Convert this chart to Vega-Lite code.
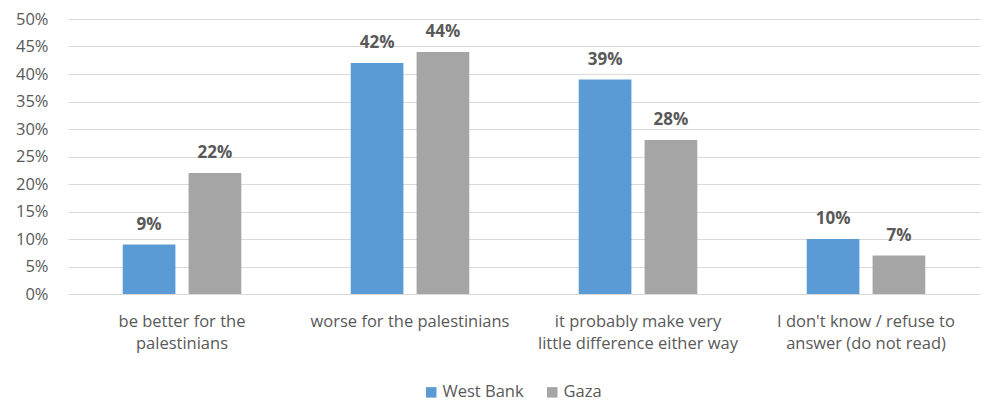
{
  "$schema": "https://vega.github.io/schema/vega-lite/v6.json",
  "autosize": {"type": "none"},
  "padding": {"left": 68, "top": 19, "right": 5, "bottom": 113},
  "width": 912,
  "height": 275,
  "background": "white",
  "data": {
    "values": [
      {"cat": "be better for the palestinians", "region": "West Bank", "value": 0.09},
      {"cat": "be better for the palestinians", "region": "Gaza", "value": 0.22},
      {"cat": "worse for the palestinians", "region": "West Bank", "value": 0.42},
      {"cat": "worse for the palestinians", "region": "Gaza", "value": 0.44},
      {"cat": "it probably make very little difference either way", "region": "West Bank", "value": 0.39},
      {"cat": "it probably make very little difference either way", "region": "Gaza", "value": 0.28},
      {"cat": "I don't know / refuse to answer (do not read)", "region": "West Bank", "value": 0.10},
      {"cat": "I don't know / refuse to answer (do not read)", "region": "Gaza", "value": 0.07}
    ]
  },
  "config": {
    "view": {"stroke": null},
    "font": "Open Sans",
    "axis": {"labelFont": "Open Sans", "labelColor": "#595959", "labelFontSize": 16.5}
  },
  "encoding": {
    "x": {
      "field": "cat",
      "type": "nominal",
      "sort": null,
      "scale": {"paddingInner": 0.48, "paddingOuter": 0.24},
      "axis": {
        "title": null,
        "labelAngle": 0,
        "domain": false,
        "ticks": false,
        "labelPadding": 19,
        "labelLineHeight": 22,
        "labelLimit": 400,
        "labelOverlap": false,
        "labelExpr": "datum.value == 'be better for the palestinians' ? ['be better for the', 'palestinians'] : datum.value == 'it probably make very little difference either way' ? ['it probably make very', 'little difference either way'] : datum.value == \"I don't know / refuse to answer (do not read)\" ? [\"I don't know / refuse to\", 'answer (do not read)'] : datum.value"
      }
    },
    "xOffset": {
      "field": "region",
      "type": "nominal",
      "sort": ["West Bank", "Gaza"],
      "scale": {"paddingInner": 0.2, "paddingOuter": 0}
    },
    "y": {
      "field": "value",
      "type": "quantitative",
      "scale": {"domain": [0, 0.5]},
      "axis": {
        "title": null,
        "format": ".0%",
        "values": [0, 0.05, 0.1, 0.15, 0.2, 0.25, 0.3, 0.35, 0.4, 0.45, 0.5],
        "labelOverlap": false,
        "domain": false,
        "ticks": false,
        "labelPadding": 20,
        "gridColor": "#d9d9d9",
        "gridWidth": 1
      }
    }
  },
  "layer": [
    {
      "mark": {"type": "bar"},
      "encoding": {
        "color": {
          "field": "region",
          "type": "nominal",
          "sort": ["West Bank", "Gaza"],
          "scale": {"domain": ["West Bank", "Gaza"], "range": ["#5B9BD5", "#A5A5A5"]},
          "legend": {
            "title": null,
            "orient": "none",
            "direction": "horizontal",
            "legendX": 355,
            "legendY": 365,
            "symbolType": "square",
            "symbolSize": 110,
            "symbolStrokeWidth": 0,
            "labelFontSize": 16.5,
            "labelColor": "#595959",
            "labelFont": "Open Sans",
            "labelOffset": 3,
            "columnPadding": 20
          }
        }
      }
    },
    {
      "mark": {"type": "text", "baseline": "bottom", "dy": -11, "fontWeight": "bold", "fontSize": 17, "color": "#595959"},
      "encoding": {
        "text": {"field": "value", "type": "quantitative", "format": ".0%"}
      }
    }
  ]
}
